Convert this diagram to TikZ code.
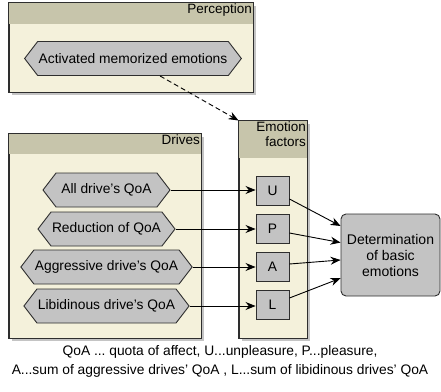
\documentclass[tikz,border=0pt]{standalone}
\usepackage{fontspec}
\setmainfont{Liberation Sans}
\usetikzlibrary{shapes.symbols,shadows,arrows.meta,calc}
\definecolor{headc}{HTML}{C7C5AB}
\definecolor{bodyc}{HTML}{F4F1DB}
\definecolor{elemc}{HTML}{C3C3C3}
\definecolor{linec}{HTML}{2E2E2E}
\definecolor{shadc}{HTML}{C4C4C4}
\tikzset{
  container/.style={draw=linec, line width=1pt, fill=bodyc, rectangle, inner sep=0pt,
    general shadow={fill=shadc, shadow xshift=3pt, shadow yshift=-3pt}},
  headtext/.style={anchor=north east, inner sep=1.5pt, align=right, font=\fontsize{13.5}{15}\selectfont},
  hexa/.style={shape=signal, signal to=west and east, signal pointer angle=105,
    draw=linec, line width=0.9pt, fill=elemc, minimum height=34pt, inner sep=1pt,
    font=\fontsize{13.8}{16}\selectfont},
  factor/.style={draw=linec, line width=0.9pt, fill=elemc, rectangle, minimum width=33pt,
    minimum height=29pt, inner sep=0pt, font=\fontsize{13.8}{16}\selectfont},
  detbox/.style={draw=linec, line width=0.9pt, fill=elemc, rounded corners=5pt, minimum width=99pt,
    minimum height=82pt, align=center, font=\fontsize{14}{16}\selectfont},
  arr/.style={line width=0.9pt, -{Stealth[length=10pt,width=8pt]}},
  caption/.style={align=center, font=\fontsize{13.8}{19}\selectfont\frenchspacing}
}
\begin{document}
\begin{tikzpicture}[x=1pt,y=-1pt]
\useasboundingbox (0,0) rectangle (441,391);
% Perception
\node[container, minimum width=244pt, minimum height=89pt] (perc) at (131,47.5) {};
\fill[headc] (perc.north west) rectangle ([yshift=-21pt]perc.north east);
\draw[linec, line width=1pt] (perc.north west) rectangle (perc.south east);
\node[headtext] (perct) at (perc.north east) {Perception};
\node[hexa, minimum width=214pt] (act) at (133,58.5) {Activated memorized emotions};
% Drives
\node[container, minimum width=192pt, minimum height=204pt] (drv) at (105,236) {};
\fill[headc] (drv.north west) rectangle ([yshift=-20pt]drv.north east);
\draw[linec, line width=1pt] (drv.north west) rectangle (drv.south east);
\node[headtext] (drvt) at (drv.north east) {Drives};
% Emotion factors
\node[container, minimum width=68pt, minimum height=217pt] (ef) at (273,229.5) {};
\fill[headc] (ef.north west) rectangle ([yshift=-37pt]ef.north east);
\draw[linec, line width=1pt] (ef.north west) rectangle (ef.south east);
\node[headtext] (eft) at (ef.north east) {Emotion\\factors};
% drive elements
\node[hexa, minimum width=127pt] (h1) at (106.5,190) {All drive's QoA};
\node[hexa, minimum width=127pt] (h2) at (106.5,229) {Reduction of QoA};
\node[hexa, minimum width=161pt] (h3) at (106.5,267) {Aggressive drive's QoA};
\node[hexa, minimum width=161pt] (h4) at (106.5,306) {Libidinous drive's QoA};
% factors
\node[factor] (u) at (272.5,191) {U};
\node[factor] (p) at (272.5,229) {P};
\node[factor] (a) at (272.5,267) {A};
\node[factor] (l) at (272.5,305) {L};
% determination
\node[detbox] (det) at (390.5,255) {Determination\\of basic\\emotions};
% connectors
\draw[arr, dash pattern=on 5pt off 3pt] ([xshift=27pt]act.south) -- (ef.north west);
\draw[arr] (h1.east) -- (h1.east -| u.west);
\draw[arr] (h2.east) -- (h2.east -| p.west);
\draw[arr] (h3.east) -- (h3.east -| a.west);
\draw[arr] (h4.east) -- (h4.east -| l.west);
\draw[arr] ([yshift=-8pt]u.east) -- ($(det.north west)!0.15!(det.south west)$);
\draw[arr] ([yshift=-4pt]p.east) -- ($(det.north west)!0.35!(det.south west)$);
\draw[arr] ([yshift=3pt]a.east) -- ($(det.north west)!0.56!(det.south west)$);
\draw[arr] ([yshift=7pt]l.east) -- ($(det.north west)!0.78!(det.south west)$);
% caption
\node[caption] (cap) at (220,361.5) {QoA ... quota of affect, U...unpleasure, P...pleasure,\\A...sum of aggressive drives' QoA , L...sum of libidinous drives' QoA};
\end{tikzpicture}
\end{document}
